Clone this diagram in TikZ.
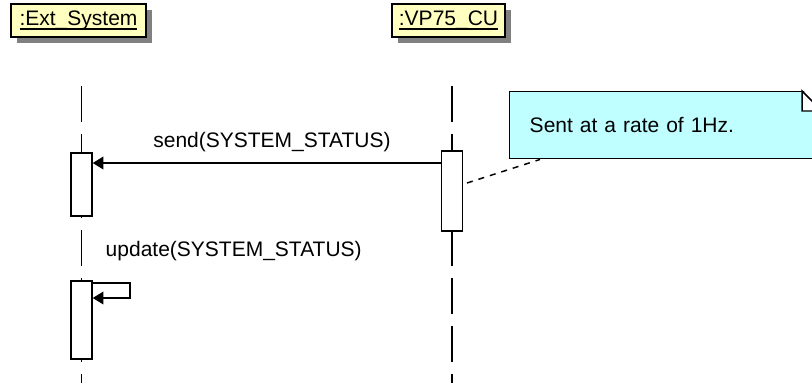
\documentclass[tikz,border=0pt]{standalone}
\usepackage{fontspec}
\setmainfont{Liberation Sans}
\usetikzlibrary{arrows.meta}

\definecolor{headfill}{RGB}{255,255,192}
\definecolor{notefill}{RGB}{192,255,255}
\definecolor{shadowgray}{RGB}{128,128,128}

% underlined object name, the rule sits where the underscore sits
\newcommand{\objname}[1]{\setbox0\hbox{#1}\rlap{\rule[-3pt]{\wd0}{1.1pt}}\box0}

\tikzset{every picture/.style={line width=1.1pt}}

\begin{document}
\begin{tikzpicture}[x=0.75pt,y=0.75pt,yscale=-1,xscale=1,
  objbox/.style={draw, fill=headfill, minimum width=101.25pt, minimum height=24.75pt, inner sep=0pt, font=\fontsize{15.75}{18}\selectfont},
  actbox/.style={draw, fill=white, minimum width=15.75pt, inner sep=0pt},
  lifeline/.style={dash pattern=on 27pt off 9pt},
  msg/.style={-{Triangle[length=8pt,width=9.5pt]}},
  notelink/.style={dash pattern=on 4.5pt off 4.5pt},
  lbl/.style={inner sep=0pt, font=\fontsize{15.75}{18}\selectfont}]
\useasboundingbox (0,0) rectangle (812,383);
\clip (0,0) rectangle (812,383);

%Shape: Rectangle [shadows of the heads]
\fill [shadowgray] (17,10) rectangle (152,43);
\fill [shadowgray] (398,10) rectangle (511,43);
% Object heads
\node [objbox] (ext) at (78.5,20.5) {\objname{:Ext\_System}};
\node [objbox, minimum width=84.75pt] (vp) at (448.5,20.5) {\objname{:VP75\_CU}};

%Straight Lines [lifelines]
\coordinate (extlife) at (81.5,86);
\coordinate (vplife) at (452,86);
\draw [lifeline] (extlife) -- (extlife |- 0,383);
\draw [lifeline] (vplife) -- (vplife |- 0,383);

%Shape: Rectangle [activations]
\node [actbox, minimum height=47.25pt] (extact1) at (81.5,184.5) {};
\node [actbox, minimum height=58.5pt] (extact2) at (81.5,320) {};
\node [actbox, minimum height=60pt] (vpact) at (452,191) {};

%Straight Lines [messages]
\draw [msg] (vpact.west |- 0,163) -- (extact1.east |- 0,163);
\draw [msg] (extact2.east |- 0,283) -- (130,283) -- (130,298) -- (extact2.east |- 0,298);

% Text Node
\node [lbl, anchor=base] (sendlbl) at (272,147) {send(SYSTEM\_STATUS)};
% Text Node
\node [lbl, anchor=base west] (updlbl) at (105,256) {update(SYSTEM\_STATUS)};

%Shape: Note
\node [draw, fill=notefill, anchor=north west, minimum height=50.25pt, text width=204.75pt, inner xsep=15pt, align=left, font=\fontsize{15.75}{18}\selectfont] (note) at (509,91) {Sent at a rate of 1Hz.};
\fill [white] (802,89) -- (825,89) -- (825,111) -- (822,111) -- cycle;
\draw [fill=white] (802,91) -- (822,111) -- (802,111) -- cycle;
\coordinate (notetail) at (467,183);
\draw [notelink] (notetail) -- ([xshift=23.25pt]note.south west);

\end{tikzpicture}
\end{document}
